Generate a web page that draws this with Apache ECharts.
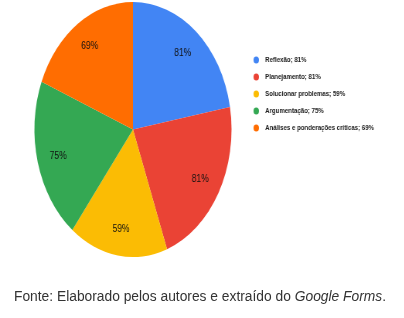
<!DOCTYPE html>
<html><head><meta charset="utf-8">
<script src="https://cdn.jsdelivr.net/npm/echarts@6/dist/echarts.min.js"></script>
<style>
html,body{margin:0;padding:0;background:#fff;width:404px;height:318px;overflow:hidden;}
#pie{position:absolute;left:0;top:0;width:523px;height:318px;transform:scaleX(0.773);transform-origin:0 0;}
#note{position:absolute;left:0;top:0;width:404px;height:318px;pointer-events:none;}
</style></head>
<body>
<div id="pie"></div>
<div id="note"></div>
<script>
const categories = ['Reflexão', 'Planejamento', 'Solucionar problemas', 'Argumentação', 'Análises e ponderações críticas'];
const values = [81, 81, 59, 75, 69];
const palette = ['#4285F4', '#EA4335', '#FBBC04', '#34A853', '#FF6D01'];

const sliceData = categories.map((c, i) => ({ name: c, value: values[i] }));
const valueByName = {};
categories.forEach((c, i) => { valueByName[c] = values[i]; });

const pie = echarts.init(document.getElementById('pie'), null, { renderer: 'canvas' });
pie.setOption({
  animation: false,
  color: palette,
  legend: {
    orient: 'vertical',
    left: 328,
    top: 55,
    padding: 0,
    itemWidth: 9,
    itemHeight: 7,
    itemGap: 7,
    icon: 'path://M50,0A50,50,0,1,1,49.99,0Z',
    data: categories,
    selectedMode: false,
    formatter: n => n + '; ' + valueByName[n] + '%',
    textStyle: { fontFamily: 'Liberation Sans, Arial, sans-serif', fontSize: 7.9, fontWeight: 'bold', color: '#222', lineHeight: 10, padding: [0, 0, 0, 2] }
  },
  series: [
    {
      type: 'pie',
      center: [172, 129.5],
      radius: [0, 127.5],
      startAngle: 90,
      clockwise: true,
      silent: true,
      label: { show: false },
      labelLine: { show: false },
      emphasis: { disabled: true },
      data: sliceData
    },
    {
      type: 'pie',
      center: [172, 129.5],
      radius: [67, 127.5],
      startAngle: 90,
      clockwise: true,
      silent: true,
      itemStyle: { color: 'rgba(0,0,0,0)' },
      label: {
        show: true, position: 'inside',
        formatter: p => p.value + '%',
        fontFamily: 'Liberation Sans, Arial, sans-serif', fontSize: 11, color: '#111'
      },
      labelLine: { show: false },
      emphasis: { disabled: true },
      data: sliceData
    }
  ]
});

const note = echarts.init(document.getElementById('note'));
note.setOption({
  animation: false,
  title: {
    left: 14, top: 290, padding: 0,
    text: '{n|Fonte: Elaborado pelos autores e extraído do }{i|Google Forms}{n|.}',
    textStyle: {
      fontWeight: 'normal',
      rich: {
        n: { fontFamily: 'Liberation Sans, Arial, sans-serif', fontSize: 13.8, color: '#333', fontWeight: 'normal' },
        i: { fontFamily: 'Liberation Sans, Arial, sans-serif', fontSize: 13.8, color: '#333', fontStyle: 'italic', fontWeight: 'normal' }
      }
    }
  }
});
</script>
</body></html>
